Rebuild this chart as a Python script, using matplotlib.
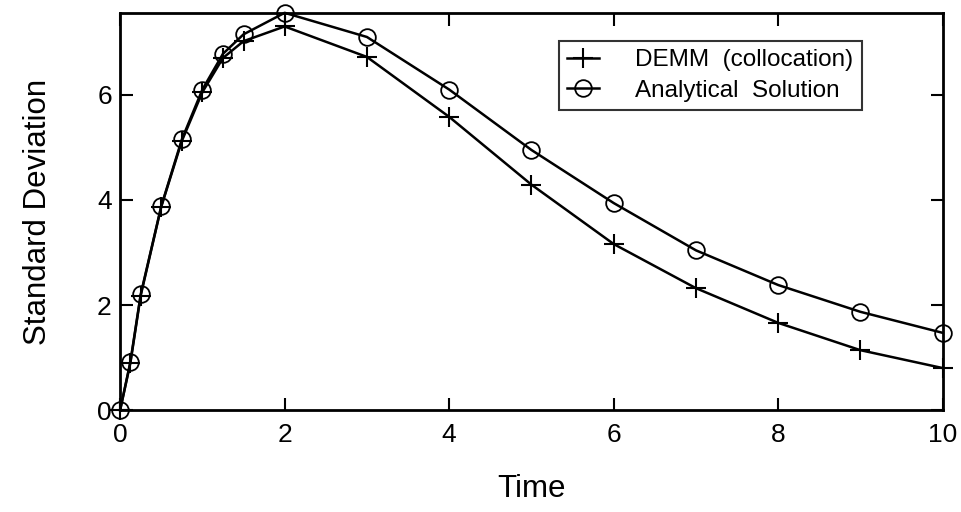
import matplotlib
matplotlib.use("Agg")
import matplotlib.pyplot as plt

plt.rcParams['font.family'] = ['Liberation Sans', 'DejaVu Sans']

# data
time = [0, 0.125, 0.25, 0.5, 0.75, 1.0, 1.25, 1.5, 2, 3, 4, 5, 6, 7, 8, 9, 10]
demm = [0.0, 0.9, 2.18, 3.87, 5.12, 6.05, 6.7, 7.02, 7.3, 6.72, 5.58, 4.29, 3.16, 2.32, 1.66, 1.14, 0.8]
analytical = [0.0, 0.92, 2.2, 3.88, 5.15, 6.1, 6.78, 7.15, 7.56, 7.1, 6.1, 4.95, 3.94, 3.04, 2.38, 1.87, 1.47]

xticks = [0, 2, 4, 6, 8, 10]
yticks = [0, 2, 4, 6]

fig = plt.figure(figsize=(9.61, 5.12), dpi=100)
ax = fig.add_axes([0.125, 0.199, 0.856, 0.776])

ax.plot(time, demm, color='black', lw=1.8, marker='+', ms=14, mew=1.5,
        clip_on=False, label='DEMM  (collocation)')
ax.plot(time, analytical, color='black', lw=1.8, marker='o', ms=12, mew=1.3,
        mfc='none', clip_on=False, label='Analytical  Solution')

ax.set_xlim(0, 10)
ax.set_ylim(0, 7.56)
ax.set_xticks(xticks)
ax.set_yticks(yticks)
ax.tick_params(direction='in', top=True, right=True, length=9, width=1.5,
               labelsize=19)
ax.tick_params(axis='x', pad=9)
ax.tick_params(axis='y', pad=6)
for s in ax.spines.values():
    s.set_linewidth(2)

ax.set_xlabel('Time', fontsize=22.5, labelpad=20)
ax.set_ylabel('Standard Deviation', fontsize=22.5, labelpad=32)

leg = ax.legend(loc='upper right', bbox_to_anchor=(0.902, 0.93), fontsize=17.5,
                frameon=True, fancybox=False, handlelength=1.3,
                handletextpad=1.5, borderpad=0.35, labelspacing=0.35,
                borderaxespad=0)
leg.get_frame().set_edgecolor('black')
leg.get_frame().set_linewidth(1.5)

fig.savefig('out.png', dpi=100)
